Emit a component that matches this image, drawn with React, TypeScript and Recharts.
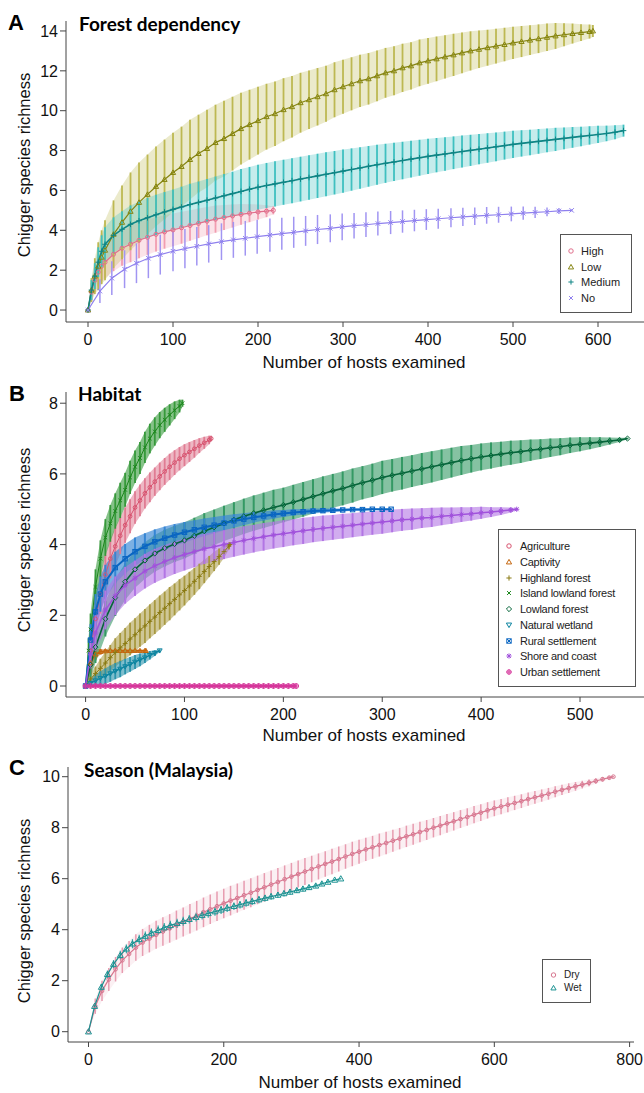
import React from 'react';
import { ComposedChart, Line, Area, XAxis, YAxis, ErrorBar, Legend } from 'recharts';

// ---------- Panel A: forest dependency ----------
const xTicksA = [0, 100, 200, 300, 400, 500, 600];
const yTicksA = [0, 2, 4, 6, 8, 10, 12, 14];

const highHosts = [0, 4, 8, 12, 16, 20, 30, 40, 50, 60, 70, 80, 90, 100, 110, 120, 130, 140, 150, 160, 170, 180, 190, 200, 210, 218];
const highRich = [0, 0.9, 1.5, 1.9, 2.2, 2.4, 2.8, 3.1, 3.3, 3.5, 3.65, 3.8, 3.92, 4.02, 4.13, 4.24, 4.35, 4.46, 4.56, 4.64, 4.72, 4.8, 4.86, 4.92, 4.96, 5.0];
const highCI = [0, 0.45, 0.6, 0.7, 0.75, 0.8, 0.85, 0.88, 0.9, 0.9, 0.88, 0.86, 0.84, 0.82, 0.8, 0.77, 0.74, 0.71, 0.68, 0.63, 0.58, 0.52, 0.45, 0.38, 0.3, 0.2];

const lowHosts = [0, 4, 8, 12, 16, 20, 30, 40, 50, 60, 70, 80, 90, 100, 110, 120, 130, 140, 150, 160, 170, 180, 190, 200, 210, 220, 230, 240, 250, 260, 270, 280, 290, 300, 310, 320, 330, 340, 350, 360, 370, 380, 390, 400, 410, 420, 430, 440, 450, 460, 470, 480, 490, 500, 510, 520, 530, 540, 550, 560, 570, 580, 590, 594];
const lowRich = [0, 1.0, 1.7, 2.2, 2.65, 3.0, 3.8, 4.4, 4.95, 5.4, 5.8, 6.2, 6.55, 6.9, 7.2, 7.55, 7.85, 8.1, 8.4, 8.6, 8.85, 9.1, 9.3, 9.5, 9.7, 9.85, 10.05, 10.2, 10.4, 10.55, 10.7, 10.85, 11.05, 11.2, 11.35, 11.5, 11.6, 11.75, 11.9, 12.0, 12.15, 12.25, 12.4, 12.5, 12.6, 12.7, 12.8, 12.9, 13.0, 13.08, 13.16, 13.24, 13.32, 13.4, 13.47, 13.54, 13.61, 13.68, 13.75, 13.81, 13.87, 13.92, 13.97, 14.0];
const lowCI = [0, 0.6, 0.9, 1.2, 1.35, 1.5, 1.7, 1.85, 1.95, 2.0, 2.0, 2.0, 2.0, 2.0, 2.0, 2.0, 1.95, 1.95, 1.9, 1.9, 1.85, 1.8, 1.75, 1.7, 1.65, 1.62, 1.58, 1.54, 1.5, 1.47, 1.44, 1.41, 1.38, 1.35, 1.33, 1.31, 1.29, 1.27, 1.25, 1.23, 1.21, 1.19, 1.17, 1.15, 1.12, 1.09, 1.06, 1.02, 0.98, 0.94, 0.9, 0.87, 0.84, 0.81, 0.78, 0.75, 0.72, 0.69, 0.65, 0.58, 0.5, 0.42, 0.35, 0.3];

const medHosts = [0, 4, 8, 12, 16, 20, 30, 40, 50, 60, 70, 80, 90, 100, 110, 120, 130, 140, 150, 160, 170, 180, 190, 200, 210, 220, 230, 240, 250, 260, 270, 280, 290, 300, 310, 320, 330, 340, 350, 360, 370, 380, 390, 400, 410, 420, 430, 440, 450, 460, 470, 480, 490, 500, 510, 520, 530, 540, 550, 560, 570, 580, 590, 600, 610, 620, 630];
const medRich = [0, 1.0, 1.7, 2.4, 2.95, 3.3, 3.75, 4.05, 4.3, 4.48, 4.63, 4.78, 4.92, 5.05, 5.17, 5.29, 5.4, 5.51, 5.62, 5.73, 5.84, 5.95, 6.06, 6.16, 6.25, 6.33, 6.41, 6.49, 6.57, 6.65, 6.73, 6.81, 6.89, 6.97, 7.05, 7.13, 7.21, 7.29, 7.36, 7.43, 7.5, 7.57, 7.64, 7.71, 7.77, 7.83, 7.89, 7.95, 8.01, 8.07, 8.13, 8.19, 8.25, 8.31, 8.36, 8.41, 8.46, 8.51, 8.56, 8.61, 8.66, 8.71, 8.76, 8.81, 8.86, 8.92, 9.0];
const medCI = [0, 0.5, 0.65, 0.75, 0.8, 0.85, 0.9, 0.9, 0.95, 0.95, 1.0, 1.0, 1.0, 1.0, 1.02, 1.04, 1.05, 1.07, 1.08, 1.1, 1.1, 1.12, 1.12, 1.13, 1.13, 1.13, 1.13, 1.13, 1.12, 1.12, 1.11, 1.1, 1.09, 1.08, 1.06, 1.04, 1.02, 1.0, 0.98, 0.96, 0.94, 0.92, 0.9, 0.88, 0.86, 0.84, 0.82, 0.8, 0.78, 0.76, 0.74, 0.72, 0.7, 0.68, 0.66, 0.64, 0.62, 0.6, 0.58, 0.55, 0.52, 0.49, 0.46, 0.43, 0.39, 0.35, 0.3];

const noHosts = [0, 14, 28, 43, 57, 71, 85, 100, 114, 128, 142, 157, 171, 185, 199, 214, 228, 242, 256, 270, 285, 299, 313, 327, 341, 356, 370, 384, 398, 412, 427, 441, 455, 469, 483, 498, 512, 526, 540, 554, 569];
const noRich = [0, 0.95, 1.6, 2.05, 2.35, 2.6, 2.78, 2.95, 3.08, 3.2, 3.32, 3.43, 3.52, 3.6, 3.68, 3.76, 3.83, 3.9, 3.97, 4.04, 4.1, 4.17, 4.23, 4.28, 4.34, 4.39, 4.44, 4.49, 4.54, 4.58, 4.63, 4.67, 4.71, 4.75, 4.78, 4.82, 4.86, 4.9, 4.93, 4.97, 5.0];
const noCI = [0, 0.6, 0.85, 0.95, 1.0, 1.0, 1.0, 1.0, 0.98, 0.96, 0.94, 0.92, 0.9, 0.87, 0.85, 0.83, 0.8, 0.78, 0.75, 0.73, 0.7, 0.67, 0.64, 0.62, 0.6, 0.58, 0.56, 0.54, 0.52, 0.5, 0.48, 0.46, 0.44, 0.42, 0.4, 0.37, 0.33, 0.28, 0.22, 0.15, 0.05];

// ---------- Panel B: habitat ----------
const xTicksB = [0, 100, 200, 300, 400, 500];
const yTicksB = [0, 2, 4, 6, 8];

const agriHosts = [0, 5, 10, 15, 20, 25, 30, 35, 40, 45, 50, 55, 60, 65, 70, 75, 80, 85, 90, 95, 100, 105, 110, 115, 120, 125, 127];
const agriRich = [0, 1.0, 1.9, 2.6, 3.15, 3.6, 3.95, 4.25, 4.55, 4.8, 5.05, 5.25, 5.45, 5.62, 5.78, 5.93, 6.07, 6.2, 6.32, 6.43, 6.53, 6.62, 6.71, 6.8, 6.88, 6.96, 7.0];
const agriCI = [0, 0.4, 0.5, 0.55, 0.55, 0.55, 0.55, 0.52, 0.5, 0.48, 0.46, 0.45, 0.43, 0.42, 0.4, 0.39, 0.38, 0.37, 0.35, 0.33, 0.31, 0.28, 0.25, 0.21, 0.17, 0.12, 0.08];

const captHosts = [0, 5, 10, 15, 20, 25, 30, 35, 40, 45, 50, 55, 60, 61];
const captRich = [0, 0.65, 0.9, 0.97, 0.99, 1, 1, 1, 1, 1, 1, 1, 1, 1];
const captCI = [0, 0.3, 0.15, 0.08, 0.05, 0.04, 0.04, 0.04, 0.04, 0.04, 0.04, 0.03, 0.03, 0.02];

const highlandHosts = [0, 5, 10, 15, 20, 25, 30, 35, 40, 45, 50, 55, 60, 65, 70, 75, 80, 85, 90, 95, 100, 105, 110, 115, 120, 125, 130, 135, 140, 145, 146];
const highlandRich = [0, 0.2, 0.35, 0.5, 0.65, 0.8, 0.95, 1.08, 1.2, 1.33, 1.45, 1.58, 1.7, 1.83, 1.95, 2.08, 2.2, 2.33, 2.45, 2.58, 2.7, 2.83, 2.96, 3.1, 3.24, 3.38, 3.52, 3.66, 3.8, 3.96, 4.0];
const highlandCI = [0, 0.15, 0.2, 0.27, 0.32, 0.36, 0.4, 0.42, 0.44, 0.46, 0.47, 0.47, 0.48, 0.48, 0.48, 0.48, 0.47, 0.47, 0.45, 0.44, 0.42, 0.4, 0.38, 0.36, 0.33, 0.3, 0.27, 0.23, 0.18, 0.1, 0.05];

const islandHosts = [0, 3, 5, 10, 15, 20, 25, 30, 35, 40, 45, 50, 55, 60, 65, 70, 75, 80, 85, 90, 95, 98];
const islandRich = [0, 1.0, 1.6, 2.8, 3.6, 4.2, 4.6, 4.95, 5.25, 5.55, 5.9, 6.2, 6.45, 6.75, 7.0, 7.2, 7.38, 7.53, 7.67, 7.8, 7.92, 8.0];
const islandCI = [0, 0.35, 0.45, 0.5, 0.52, 0.52, 0.52, 0.5, 0.5, 0.48, 0.47, 0.46, 0.45, 0.44, 0.42, 0.4, 0.37, 0.34, 0.3, 0.25, 0.18, 0.1];

const lowlandHosts = [0, 5, 10, 20, 30, 40, 50, 60, 70, 80, 90, 100, 110, 120, 130, 140, 150, 160, 170, 180, 190, 200, 210, 220, 230, 240, 250, 260, 270, 280, 290, 300, 310, 320, 330, 340, 350, 360, 370, 380, 390, 400, 410, 420, 430, 440, 450, 460, 470, 480, 490, 500, 510, 520, 530, 540, 548];
const lowlandRich = [0, 0.6, 1.1, 1.9, 2.5, 2.95, 3.3, 3.55, 3.75, 3.9, 4.02, 4.12, 4.25, 4.38, 4.49, 4.6, 4.7, 4.8, 4.89, 4.97, 5.05, 5.12, 5.2, 5.28, 5.36, 5.44, 5.52, 5.59, 5.67, 5.75, 5.82, 5.9, 5.96, 6.02, 6.08, 6.14, 6.2, 6.26, 6.32, 6.38, 6.43, 6.48, 6.52, 6.56, 6.6, 6.63, 6.67, 6.7, 6.74, 6.77, 6.81, 6.84, 6.87, 6.9, 6.93, 6.96, 7.0];
const lowlandCI = [0, 0.35, 0.45, 0.5, 0.52, 0.52, 0.52, 0.52, 0.52, 0.52, 0.51, 0.51, 0.51, 0.51, 0.5, 0.5, 0.5, 0.5, 0.5, 0.5, 0.5, 0.49, 0.49, 0.49, 0.49, 0.49, 0.48, 0.48, 0.48, 0.47, 0.47, 0.47, 0.46, 0.46, 0.45, 0.45, 0.44, 0.43, 0.42, 0.41, 0.39, 0.38, 0.37, 0.35, 0.34, 0.32, 0.3, 0.28, 0.26, 0.24, 0.22, 0.2, 0.17, 0.14, 0.1, 0.06, 0.02];

const wetlandHosts = [0, 5, 10, 15, 20, 25, 30, 35, 40, 45, 50, 55, 60, 65, 70, 75];
const wetlandRich = [0, 0.08, 0.15, 0.22, 0.28, 0.35, 0.42, 0.48, 0.55, 0.61, 0.68, 0.74, 0.8, 0.87, 0.93, 1.0];
const wetlandCI = [0, 0.12, 0.18, 0.2, 0.22, 0.23, 0.23, 0.23, 0.22, 0.21, 0.2, 0.18, 0.15, 0.12, 0.08, 0.04];

const ruralHosts = [0, 5, 10, 15, 20, 30, 40, 50, 60, 70, 80, 90, 100, 110, 120, 130, 140, 150, 160, 170, 180, 190, 200, 210, 220, 230, 240, 250, 260, 270, 280, 290, 300, 309];
const ruralRich = [0, 1.3, 2.1, 2.6, 2.95, 3.35, 3.6, 3.8, 3.95, 4.08, 4.18, 4.27, 4.35, 4.42, 4.49, 4.55, 4.61, 4.67, 4.72, 4.77, 4.81, 4.85, 4.88, 4.91, 4.93, 4.95, 4.96, 4.97, 4.98, 4.99, 4.99, 5.0, 5.0, 5.0];
const ruralCI = [0, 0.45, 0.5, 0.5, 0.48, 0.45, 0.42, 0.4, 0.37, 0.35, 0.33, 0.31, 0.29, 0.27, 0.25, 0.23, 0.21, 0.19, 0.17, 0.15, 0.13, 0.12, 0.1, 0.09, 0.08, 0.07, 0.06, 0.05, 0.04, 0.03, 0.03, 0.02, 0.01, 0];

const shoreHosts = [0, 5, 10, 20, 30, 40, 50, 60, 70, 80, 90, 100, 110, 120, 130, 140, 150, 160, 170, 180, 190, 200, 210, 220, 230, 240, 250, 260, 270, 280, 290, 300, 310, 320, 330, 340, 350, 360, 370, 380, 390, 400, 410, 420, 430, 436];
const shoreRich = [0, 0.9, 1.5, 2.15, 2.55, 2.85, 3.05, 3.25, 3.4, 3.52, 3.63, 3.72, 3.8, 3.88, 3.94, 4.0, 4.06, 4.12, 4.17, 4.22, 4.27, 4.31, 4.35, 4.39, 4.43, 4.46, 4.49, 4.52, 4.55, 4.58, 4.61, 4.64, 4.67, 4.7, 4.72, 4.75, 4.77, 4.8, 4.82, 4.85, 4.87, 4.9, 4.92, 4.95, 4.98, 5.0];
const shoreCI = [0, 0.4, 0.5, 0.55, 0.55, 0.52, 0.5, 0.49, 0.48, 0.47, 0.46, 0.45, 0.44, 0.43, 0.42, 0.41, 0.4, 0.4, 0.39, 0.39, 0.38, 0.38, 0.37, 0.37, 0.36, 0.36, 0.35, 0.35, 0.34, 0.34, 0.33, 0.33, 0.32, 0.31, 0.3, 0.28, 0.27, 0.25, 0.23, 0.21, 0.19, 0.17, 0.14, 0.11, 0.07, 0.03];

const urbanHosts = [0, 5, 10, 15, 20, 25, 30, 35, 40, 45, 50, 55, 60, 65, 70, 75, 80, 85, 90, 95, 100, 105, 110, 115, 120, 125, 130, 135, 140, 145, 150, 155, 160, 165, 170, 175, 180, 185, 190, 195, 200, 205, 210, 213];
const urbanRich = [0, 0, 0, 0, 0, 0, 0, 0, 0, 0, 0, 0, 0, 0, 0, 0, 0, 0, 0, 0, 0, 0, 0, 0, 0, 0, 0, 0, 0, 0, 0, 0, 0, 0, 0, 0, 0, 0, 0, 0, 0, 0, 0, 0];
const urbanCI = [0, 0, 0, 0, 0, 0, 0, 0, 0, 0, 0, 0, 0, 0, 0, 0, 0, 0, 0, 0, 0, 0, 0, 0, 0, 0, 0, 0, 0, 0, 0, 0, 0, 0, 0, 0, 0, 0, 0, 0, 0, 0, 0, 0];

// ---------- Panel C: season (Malaysia) ----------
const xTicksC = [0, 200, 400, 600, 800];
const yTicksC = [0, 2, 4, 6, 8, 10];

const dryHosts = [0, 10, 20, 30, 40, 50, 60, 70, 80, 90, 100, 110, 120, 130, 140, 150, 160, 170, 180, 190, 200, 210, 220, 230, 240, 250, 260, 270, 280, 290, 300, 310, 320, 330, 340, 350, 360, 370, 380, 390, 400, 410, 420, 430, 440, 450, 460, 470, 480, 490, 500, 510, 520, 530, 540, 550, 560, 570, 580, 590, 600, 610, 620, 630, 640, 650, 660, 670, 680, 690, 700, 710, 720, 730, 740, 750, 760, 770, 776];
const dryRich = [0, 1.0, 1.6, 2.05, 2.45, 2.8, 3.05, 3.3, 3.5, 3.65, 3.8, 3.93, 4.05, 4.18, 4.3, 4.43, 4.55, 4.68, 4.8, 4.92, 5.03, 5.14, 5.24, 5.35, 5.45, 5.56, 5.66, 5.77, 5.87, 5.98, 6.08, 6.18, 6.28, 6.38, 6.48, 6.58, 6.67, 6.77, 6.87, 6.97, 7.06, 7.15, 7.23, 7.32, 7.4, 7.49, 7.57, 7.66, 7.74, 7.83, 7.91, 8.0, 8.08, 8.17, 8.25, 8.34, 8.42, 8.51, 8.59, 8.68, 8.76, 8.83, 8.9, 8.97, 9.04, 9.12, 9.19, 9.26, 9.33, 9.41, 9.48, 9.55, 9.62, 9.69, 9.76, 9.83, 9.9, 9.96, 10.0];
const dryCI = [0, 0.3, 0.4, 0.45, 0.48, 0.5, 0.51, 0.52, 0.53, 0.54, 0.55, 0.56, 0.56, 0.57, 0.57, 0.58, 0.58, 0.58, 0.58, 0.58, 0.58, 0.58, 0.57, 0.57, 0.57, 0.56, 0.56, 0.55, 0.55, 0.54, 0.54, 0.53, 0.53, 0.52, 0.51, 0.5, 0.5, 0.49, 0.48, 0.48, 0.47, 0.46, 0.45, 0.45, 0.44, 0.43, 0.42, 0.42, 0.41, 0.4, 0.39, 0.38, 0.38, 0.37, 0.36, 0.35, 0.34, 0.34, 0.33, 0.32, 0.31, 0.3, 0.29, 0.28, 0.27, 0.26, 0.25, 0.24, 0.23, 0.22, 0.2, 0.19, 0.17, 0.15, 0.13, 0.11, 0.09, 0.06, 0.03];

const wetHosts = [0, 9, 19, 28, 37, 47, 56, 65, 75, 84, 93, 103, 112, 121, 131, 140, 149, 159, 168, 177, 187, 196, 205, 215, 224, 233, 242, 252, 261, 270, 280, 289, 298, 308, 317, 326, 336, 345, 354, 364, 373];
const wetRich = [0, 1.0, 1.75, 2.25, 2.65, 3.0, 3.25, 3.45, 3.62, 3.75, 3.87, 3.98, 4.08, 4.17, 4.25, 4.33, 4.41, 4.49, 4.57, 4.64, 4.71, 4.78, 4.85, 4.92, 4.98, 5.05, 5.11, 5.18, 5.24, 5.3, 5.36, 5.42, 5.48, 5.54, 5.6, 5.66, 5.72, 5.8, 5.87, 5.95, 6.0];
const wetCI = [0, 0.1, 0.13, 0.15, 0.16, 0.17, 0.17, 0.18, 0.18, 0.18, 0.18, 0.18, 0.18, 0.18, 0.18, 0.18, 0.17, 0.17, 0.17, 0.17, 0.16, 0.16, 0.16, 0.15, 0.15, 0.15, 0.14, 0.14, 0.13, 0.13, 0.12, 0.12, 0.11, 0.1, 0.1, 0.09, 0.08, 0.07, 0.06, 0.04, 0.02];

const SANS = "'Liberation Sans', Arial, Helvetica, sans-serif";
const TITLE = "Lato, 'Open Sans', sans-serif";

type Pt = { x: number; y: number; e: number };
type Shape = 'circle' | 'triangle' | 'plus' | 'cross' | 'diamond' | 'triangleDown' | 'squareX' | 'asterisk' | 'circlePlus';
type Series = { name: string; shape: Shape; color: string; bar: string; barW: number; band: number; lineW: number; ms: number; pts: Pt[] };

const toPts = (hosts: number[], rich: number[], ci: number[]): Pt[] =>
  hosts.map((x, i) => ({ x, y: rich[i], e: ci[i] }));

function Marker({ shape, cx, cy, color, s = 2.5, sw = 1 }: { shape: Shape; cx?: number; cy?: number; color: string; s?: number; sw?: number }) {
  if (cx == null || cy == null) return null;
  const st = { fill: 'none', stroke: color, strokeWidth: sw };
  const plus = `M${cx - s},${cy}H${cx + s}M${cx},${cy - s}V${cy + s}`;
  const k = s * 0.75;
  const cross = `M${cx - k},${cy - k}L${cx + k},${cy + k}M${cx - k},${cy + k}L${cx + k},${cy - k}`;
  switch (shape) {
    case 'circle':
      return <circle cx={cx} cy={cy} r={s * 0.85} {...st} />;
    case 'triangle':
      return <polygon points={`${cx},${cy - s} ${cx - s},${cy + s * 0.75} ${cx + s},${cy + s * 0.75}`} {...st} />;
    case 'triangleDown':
      return <polygon points={`${cx},${cy + s} ${cx - s},${cy - s * 0.75} ${cx + s},${cy - s * 0.75}`} {...st} />;
    case 'plus':
      return <path d={plus} {...st} />;
    case 'cross':
      return <path d={cross} {...st} />;
    case 'diamond':
      return <polygon points={`${cx},${cy - s} ${cx + s},${cy} ${cx},${cy + s} ${cx - s},${cy}`} {...st} />;
    case 'squareX':
      return (
        <g {...st}>
          <rect x={cx - s * 0.85} y={cy - s * 0.85} width={s * 1.7} height={s * 1.7} />
          <path d={cross} />
        </g>
      );
    case 'asterisk':
      return <path d={plus + cross} {...st} />;
    case 'circlePlus':
      return (
        <g {...st}>
          <circle cx={cx} cy={cy} r={s * 0.85} />
          <path d={plus} />
        </g>
      );
  }
  return null;
}

const seriesA: Series[] = [
  { name: 'High', shape: 'circle', color: '#e06f8c', bar: '#f19db0', barW: 1.8, band: 0.28, lineW: 1.2, ms: 2.4, pts: toPts(highHosts, highRich, highCI) },
  { name: 'Low', shape: 'triangle', color: '#858410', bar: '#bdb852', barW: 1.8, band: 0.3, lineW: 1.2, ms: 2.6, pts: toPts(lowHosts, lowRich, lowCI) },
  { name: 'Medium', shape: 'plus', color: '#0f8585', bar: '#3fc0c0', barW: 1.8, band: 0.3, lineW: 1.6, ms: 2.8, pts: toPts(medHosts, medRich, medCI) },
  { name: 'No', shape: 'cross', color: '#8f80ee', bar: '#a195f2', barW: 1.5, band: 0, lineW: 1.2, ms: 3, pts: toPts(noHosts, noRich, noCI) },
];

const seriesB: Series[] = [
  { name: 'Agriculture', shape: 'circle', color: '#d8536f', bar: '#e07c93', barW: 1.8, band: 0.55, lineW: 1, ms: 2.2, pts: toPts(agriHosts, agriRich, agriCI) },
  { name: 'Captivity', shape: 'triangle', color: '#c4650c', bar: '#cf7a2a', barW: 2.5, band: 0.6, lineW: 1.5, ms: 2.4, pts: toPts(captHosts, captRich, captCI) },
  { name: 'Highland forest', shape: 'plus', color: '#8a7a12', bar: '#a89940', barW: 1.8, band: 0.55, lineW: 1, ms: 2.4, pts: toPts(highlandHosts, highlandRich, highlandCI) },
  { name: 'Island lowland forest', shape: 'cross', color: '#1b861b', bar: '#36993a', barW: 1.8, band: 0.6, lineW: 1, ms: 2.4, pts: toPts(islandHosts, islandRich, islandCI) },
  { name: 'Lowland forest', shape: 'diamond', color: '#06653a', bar: '#349964', barW: 2, band: 0.6, lineW: 1.6, ms: 2.6, pts: toPts(lowlandHosts, lowlandRich, lowlandCI) },
  { name: 'Natural wetland', shape: 'triangleDown', color: '#0b84a0', bar: '#2a93ac', barW: 1.8, band: 0.6, lineW: 1.2, ms: 2.4, pts: toPts(wetlandHosts, wetlandRich, wetlandCI) },
  { name: 'Rural settlement', shape: 'squareX', color: '#0a66c2', bar: '#3585d4', barW: 2, band: 0.65, lineW: 2, ms: 2.6, pts: toPts(ruralHosts, ruralRich, ruralCI) },
  { name: 'Shore and coast', shape: 'asterisk', color: '#a152dc', bar: '#b275e4', barW: 2, band: 0.6, lineW: 1.5, ms: 2.6, pts: toPts(shoreHosts, shoreRich, shoreCI) },
  { name: 'Urban settlement', shape: 'circlePlus', color: '#d6379b', bar: '#e07ab8', barW: 1, band: 0, lineW: 3, ms: 2.8, pts: toPts(urbanHosts, urbanRich, urbanCI) },
];

const seriesC: Series[] = [
  { name: 'Dry', shape: 'circle', color: '#d7768f', bar: '#e79cb0', barW: 1.5, band: 0.15, lineW: 1.2, ms: 2.2, pts: toPts(dryHosts, dryRich, dryCI) },
  { name: 'Wet', shape: 'triangle', color: '#1c9292', bar: '#38a8a8', barW: 1.2, band: 0, lineW: 1.2, ms: 3, pts: toPts(wetHosts, wetRich, wetCI) },
];

type LegendCfg = { left: number; top: number; width: number; height: number; first: number; step: number; fontSize: number; spacing: number; markX: number; textX: number; ms: number };

type PanelCfg = {
  top: number; height: number; margin: { top: number; right: number; bottom: number; left: number };
  yWidth: number; xHeight: number; xDomain: [number, number]; yDomain: [number, number];
  xTicks: number[]; yTicks: number[]; series: Series[]; legend: LegendCfg;
  letter: string; letterPos: [number, number]; title: string; titlePos: [number, number];
  yTitlePos: [number, number]; xTitlePos: [number, number];
};

const panels: PanelCfg[] = [
  {
    top: 0, height: 372, margin: { top: 21, right: 0, bottom: 0, left: 0 }, yWidth: 66, xHeight: 50,
    xDomain: [-25.9, 654.1], yDomain: [-0.6, 14.5], xTicks: xTicksA, yTicks: yTicksA, series: seriesA,
    legend: { left: 560, top: 234, width: 72, height: 79, first: 17, step: 15.7, fontSize: 11, spacing: 0, markX: 11, textX: 21, ms: 2.6 },
    letter: 'A', letterPos: [8, 30], title: 'Forest dependency', titlePos: [79, 31], yTitlePos: [24, 165], xTitlePos: [364, 362],
  },
  {
    top: 372, height: 372, margin: { top: 20, right: 0, bottom: 0, left: 0 }, yWidth: 66, xHeight: 47,
    xDomain: [-19.8, 564.7], yDomain: [-0.311, 8.317], xTicks: xTicksB, yTicks: yTicksB, series: seriesB,
    legend: { left: 498, top: 157, width: 138, height: 158, first: 17, step: 15.75, fontSize: 11, spacing: -0.25, markX: 11, textX: 22, ms: 2.6 },
    letter: 'B', letterPos: [9, 29], title: 'Habitat', titlePos: [78, 29], yTitlePos: [24, 168], xTitlePos: [364, 363],
  },
  {
    top: 744, height: 349, margin: { top: 23, right: 10, bottom: 0, left: 0 }, yWidth: 68, xHeight: 51,
    xDomain: [-30.3, 806.5], yDomain: [-0.404, 10.38], xTicks: xTicksC, yTicks: yTicksC, series: seriesC,
    legend: { left: 542, top: 215, width: 49, height: 44, first: 16, step: 13, fontSize: 10, spacing: 0, markX: 11.5, textX: 22, ms: 2.6 },
    letter: 'C', letterPos: [9, 31], title: 'Season (Malaysia)', titlePos: [84, 33], yTitlePos: [24, 167], xTitlePos: [360, 338],
  },
];

function LegendBox({ items, lg }: { items: Series[]; lg: LegendCfg }) {
  return (
    <div
      style={{
        position: 'relative', width: lg.width, height: lg.height, boxSizing: 'border-box',
        border: '1px solid #555', background: '#fff', fontFamily: SANS, fontSize: lg.fontSize,
        letterSpacing: lg.spacing, color: '#222',
      }}
    >
      {items.map((s, i) => (
        <div
          key={s.name}
          style={{ position: 'absolute', left: -1, top: lg.first + i * lg.step - 8, height: 14, display: 'flex', alignItems: 'center', whiteSpace: 'nowrap', lineHeight: '14px' }}
        >
          <svg width={lg.textX} height={14} style={{ display: 'block' }}>
            <Marker shape={s.shape} cx={lg.markX} cy={7} color={s.color} s={lg.ms} />
          </svg>
          <span>{s.name}</span>
        </div>
      ))}
    </div>
  );
}

const bandKey = (d: Pt) => [d.y - d.e, d.y + d.e];

function Panel({ cfg }: { cfg: PanelCfg }) {
  const tick = { fill: '#111', fontSize: 16, fontFamily: SANS };
  return (
    <div style={{ position: 'absolute', left: 0, top: cfg.top, width: 644, height: cfg.height }}>
      <ComposedChart width={644} height={cfg.height} margin={cfg.margin}>
        <XAxis
          type="number"
          dataKey="x"
          domain={cfg.xDomain}
          ticks={cfg.xTicks}
          interval={0}
          allowDataOverflow
          height={cfg.xHeight}
          stroke="#444"
          tick={tick}
          tickSize={5}
          tickMargin={7}
          label={{
            content: () => (
              <text x={cfg.xTitlePos[0]} y={cfg.xTitlePos[1]} textAnchor="middle" dominantBaseline="central" fontSize={17} fontFamily={SANS} fill="#111">
                Number of hosts examined
              </text>
            ),
          }}
        />
        <YAxis
          type="number"
          dataKey="y"
          domain={cfg.yDomain}
          ticks={cfg.yTicks}
          interval={0}
          allowDataOverflow
          width={cfg.yWidth}
          stroke="#444"
          tick={tick}
          tickSize={6}
          tickMargin={2}
          label={{
            content: () => (
              <g>
                <text
                  transform={`translate(${cfg.yTitlePos[0]},${cfg.yTitlePos[1]}) rotate(-90)`}
                  textAnchor="middle"
                  dominantBaseline="central"
                  fontSize={16.5}
                  fontFamily={SANS}
                  fill="#111"
                >
                  Chigger species richness
                </text>
                <text x={cfg.letterPos[0]} y={cfg.letterPos[1]} fontSize={22} fontWeight={700} fontFamily={SANS} fill="#000">
                  {cfg.letter}
                </text>
                <text x={cfg.titlePos[0]} y={cfg.titlePos[1]} fontSize={19} fontWeight={700} fontFamily={TITLE} fill="#000">
                  {cfg.title}
                </text>
              </g>
            ),
          }}
        />
        {cfg.series.map((s) =>
          s.band > 0 ? (
            <Area
              key={`${s.name}-band`}
              data={s.pts}
              dataKey={bandKey}
              type="linear"
              stroke="none"
              fill={s.bar}
              fillOpacity={s.band}
              dot={false}
              activeDot={false}
              legendType="none"
              isAnimationActive={false}
            />
          ) : null
        )}
        {cfg.series.map((s) => (
          <Line
            key={s.name}
            name={s.name}
            data={s.pts}
            dataKey="y"
            type="linear"
            stroke={s.color}
            strokeWidth={s.lineW}
            activeDot={false}
            isAnimationActive={false}
            dot={(p: any) => (
              <Marker key={`${s.name}-${p.index}`} shape={s.shape} cx={p.cx} cy={p.cy} color={s.color} s={s.ms} />
            )}
          >
            <ErrorBar dataKey="e" width={0} stroke={s.bar} strokeWidth={s.barW} direction="y" isAnimationActive={false} />
          </Line>
        ))}
        <Legend
          layout="vertical"
          align="center"
          verticalAlign="middle"
          wrapperStyle={{ left: cfg.legend.left, top: cfg.legend.top, width: cfg.legend.width, height: cfg.legend.height }}
          content={() => <LegendBox items={cfg.series} lg={cfg.legend} />}
        />
      </ComposedChart>
    </div>
  );
}

export default function App() {
  return (
    <div style={{ position: 'absolute', left: 0, top: 0, width: 644, height: 1093, background: '#fff', overflow: 'hidden' }}>
      {panels.map((p) => (
        <Panel key={p.letter} cfg={p} />
      ))}
    </div>
  );
}
